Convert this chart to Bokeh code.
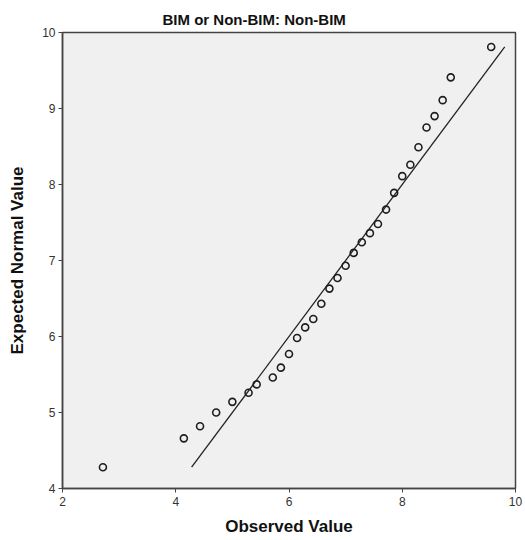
from bokeh.plotting import figure
from bokeh.models import FixedTicker, ColumnDataSource
from bokeh.embed import file_html
from bokeh.resources import INLINE

observed = [2.714, 4.143, 4.429, 4.714, 5.000, 5.286, 5.429, 5.714, 5.857, 6.000,
            6.143, 6.286, 6.429, 6.571, 6.714, 6.857, 7.000, 7.143, 7.286, 7.429,
            7.571, 7.714, 7.857, 8.000, 8.143, 8.286, 8.429, 8.571, 8.714, 8.857,
            9.571]
expected = [4.28, 4.66, 4.82, 5.00, 5.14, 5.26, 5.37, 5.46, 5.59, 5.77,
            5.98, 6.12, 6.23, 6.43, 6.63, 6.77, 6.93, 7.10, 7.24, 7.36,
            7.48, 7.67, 7.89, 8.11, 8.26, 8.49, 8.75, 8.90, 9.11, 9.41,
            9.81]
# Reference line y = x, spanning the expected-value range
line_x = [4.28, 9.81]
line_y = [4.28, 9.81]

x_ticks = [2, 4, 6, 8, 10]
y_ticks = [4, 5, 6, 7, 8, 9, 10]

FONT = "Liberation Sans"

p = figure(
    frame_width=453, frame_height=456,
    min_border_left=62, min_border_right=10, min_border_top=32, min_border_bottom=52,
    x_range=(2, 10), y_range=(4, 10),
    output_backend="svg", toolbar_location=None,
    title="BIM or Non-BIM: Non-BIM",
)
p.background_fill_color = "#f0f0f0"
p.border_fill_color = "white"
p.outline_line_color = "#444444"
p.outline_line_width = 1.5

p.title.align = "left"
p.title.offset = 100
p.title.text_font = FONT
p.title.text_font_size = "15px"
p.title.text_font_style = "bold"
p.title.text_color = "#111111"

p.xgrid.visible = False
p.ygrid.visible = False

for ax in (p.xaxis[0], p.yaxis[0]):
    ax.axis_line_color = "#444444"
    ax.axis_line_width = 1.5
    ax.major_tick_line_color = "#444444"
    ax.major_tick_out = 4
    ax.major_tick_in = 0
    ax.minor_tick_line_color = None
    ax.major_label_text_font = FONT
    ax.major_label_text_font_size = "12px"
    ax.major_label_text_color = "#333333"
    ax.axis_label_text_font = FONT
    ax.axis_label_text_font_size = "17px"
    ax.axis_label_text_font_style = "bold"
    ax.axis_label_text_color = "#111111"

p.xaxis.ticker = FixedTicker(ticks=x_ticks)
p.yaxis.ticker = FixedTicker(ticks=y_ticks)
p.xaxis.axis_label = "Observed Value"
p.yaxis.axis_label = "Expected Normal Value"
p.xaxis.major_label_standoff = 4
p.yaxis.major_label_standoff = 3
p.xaxis.axis_label_standoff = 8
p.yaxis.axis_label_standoff = 12

p.line(line_x, line_y, line_color="#222222", line_width=1.3)

src = ColumnDataSource(dict(x=observed, y=expected))
p.scatter("x", "y", source=src, marker="circle", size=7, fill_color=None,
          line_color="#1e1e1e", line_width=1.6)

open("out.html", "w").write(file_html(p, INLINE))
